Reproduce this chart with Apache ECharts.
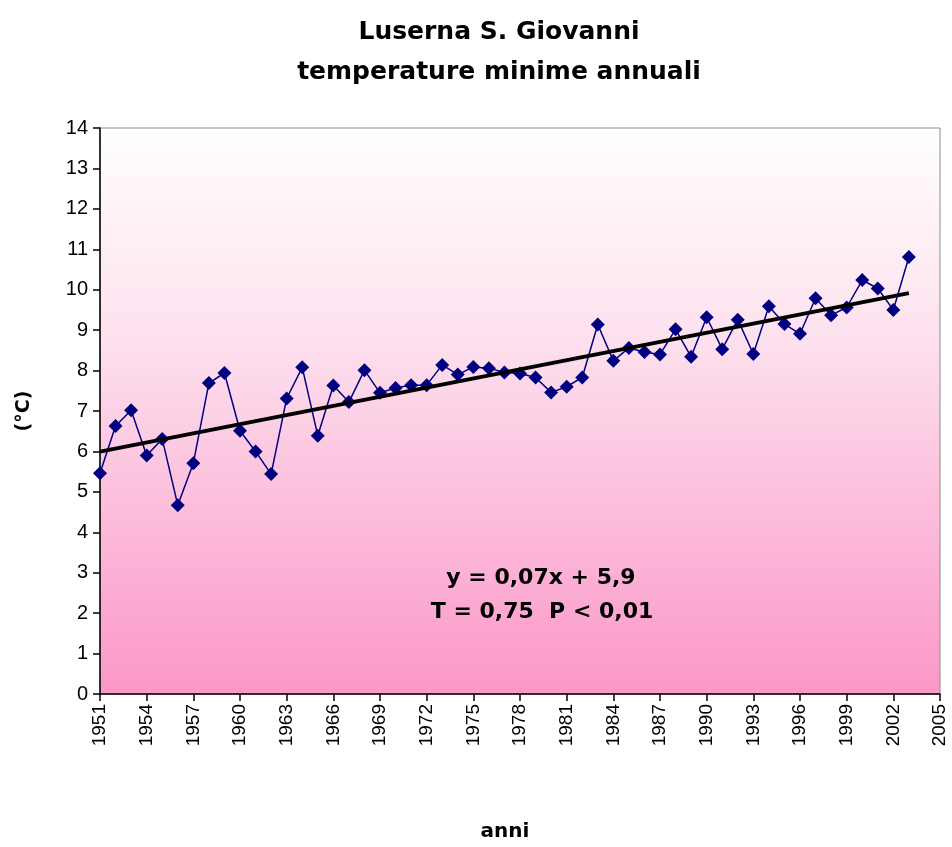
<!DOCTYPE html>
<html>
<head>
<meta charset="utf-8">
<title>Luserna S. Giovanni - temperature minime annuali</title>
<script src="https://cdn.jsdelivr.net/npm/echarts@6/dist/echarts.min.js"></script>
<style>
  html, body { margin: 0; padding: 0; background: #ffffff; }
  #chart { width: 952px; height: 847px; }
</style>
</head>
<body>
<div id="chart"></div>
<script>
// Annual minimum temperatures (°C), Luserna S. Giovanni
const startYear = 1951;
const years = [
  1951, 1952, 1953, 1954, 1955, 1956, 1957, 1958, 1959, 1960,
  1961, 1962, 1963, 1964, 1965, 1966, 1967, 1968, 1969, 1970,
  1971, 1972, 1973, 1974, 1975, 1976, 1977, 1978, 1979, 1980,
  1981, 1982, 1983, 1984, 1985, 1986, 1987, 1988, 1989, 1990,
  1991, 1992, 1993, 1994, 1995, 1996, 1997, 1998, 1999, 2000,
  2001, 2002, 2003
];
const tmin = [
  5.46, 6.63, 7.02, 5.90, 6.31, 4.67, 5.71, 7.69, 7.94, 6.51,
  6.00, 5.44, 7.31, 8.08, 6.39, 7.63, 7.22, 8.01, 7.45, 7.57,
  7.64, 7.64, 8.14, 7.90, 8.09, 8.06, 7.95, 7.93, 7.83, 7.46,
  7.60, 7.83, 9.14, 8.24, 8.56, 8.46, 8.40, 9.02, 8.34, 9.32,
  8.53, 9.26, 8.41, 9.59, 9.15, 8.91, 9.79, 9.37, 9.56, 10.24,
  10.03, 9.50, 10.81
];
const yTicks = { min: 0, max: 14, step: 1 };
const xTicks = { first: 1951, last: 2005, step: 3 };
const titleLines = ['Luserna S. Giovanni', 'temperature minime annuali'];
const trendText = ['y = 0,07x + 5,9', 'T = 0,75  P < 0,01'];

// x positions are counted in years from the first year, so the tick step divides the axis minimum
const points = years.map((y, i) => [y - startYear, tmin[i]]);

// least-squares linear trend over the series
const n = points.length;
const mx = points.reduce((s, p) => s + p[0], 0) / n;
const my = points.reduce((s, p) => s + p[1], 0) / n;
let sxy = 0, sxx = 0;
points.forEach(p => { sxy += (p[0] - mx) * (p[1] - my); sxx += (p[0] - mx) * (p[0] - mx); });
const slope = sxy / sxx;
const icpt = my - slope * mx;
const x0 = points[0][0], x1 = points[n - 1][0];
const trend = [[x0, icpt + slope * x0], [x1, icpt + slope * x1]];

const font = '"Liberation Sans", Arial, sans-serif';
const boldFont = '"DejaVu Sans", Verdana, sans-serif';
const chart = echarts.init(document.getElementById('chart'), null, { renderer: 'canvas' });

chart.setOption({
  backgroundColor: '#ffffff',
  animation: false,
  title: {
    text: titleLines.join('\n'),
    left: 494,
    top: 7,
    textAlign: 'center',
    textStyle: { fontFamily: boldFont, fontWeight: 'bold', fontSize: 25, lineHeight: 40, color: '#000000' }
  },
  grid: {
    left: 100, right: 12, top: 128, bottom: 147,
    show: true,
    borderColor: '#8c8c8c',
    borderWidth: 1,
    backgroundColor: {
      type: 'linear', x: 0, y: 0, x2: 0, y2: 1,
      colorStops: [
        { offset: 0, color: '#ffffff' },
        { offset: 0.35, color: '#fde3ef' },
        { offset: 1, color: '#fb97c8' }
      ]
    }
  },
  xAxis: {
    type: 'value',
    min: xTicks.first - startYear,
    max: xTicks.last - startYear,
    interval: xTicks.step,
    name: 'anni',
    nameLocation: 'middle',
    nameGap: 128,
    nameTextStyle: { fontFamily: boldFont, fontWeight: 'bold', fontSize: 20, color: '#000000', padding: [0, 30, 0, 0] },
    axisLine: { show: true, lineStyle: { color: '#000000', width: 1.5 } },
    axisTick: { show: true, length: 7, lineStyle: { color: '#000000', width: 1.5 } },
    axisLabel: {
      rotate: 90,
      margin: 10,
      fontFamily: font,
      fontSize: 19,
      color: '#000000',
      formatter: v => String(startYear + v)
    },
    splitLine: { show: false }
  },
  yAxis: {
    type: 'value',
    min: yTicks.min,
    max: yTicks.max,
    interval: yTicks.step,
    name: '(°C)',
    nameLocation: 'middle',
    nameGap: 66,
    nameRotate: 90,
    nameTextStyle: { fontFamily: boldFont, fontWeight: 'bold', fontSize: 19, color: '#000000' },
    axisLine: { show: true, lineStyle: { color: '#000000', width: 1.5 } },
    axisTick: { show: true, length: 7, lineStyle: { color: '#000000', width: 1.5 } },
    axisLabel: { margin: 12, fontFamily: font, fontSize: 20, color: '#000000' },
    splitLine: { show: false }
  },
  series: [
    {
      name: 'temperature minime',
      type: 'line',
      data: points,
      symbol: 'diamond',
      symbolSize: 14,
      itemStyle: { color: '#000080' },
      lineStyle: { color: '#000080', width: 1.5 },
      z: 3
    },
    {
      name: 'tendenza lineare',
      type: 'line',
      data: trend,
      symbol: 'none',
      lineStyle: { color: '#000000', width: 4 },
      z: 4
    }
  ],
  graphic: [
    {
      type: 'text',
      style: {
        x: 541, y: 578,
        text: trendText[0],
        textAlign: 'center', textVerticalAlign: 'middle',
        font: 'bold 22px ' + boldFont, fill: '#000000'
      }
    },
    {
      type: 'text',
      style: {
        x: 542, y: 612,
        text: trendText[1],
        textAlign: 'center', textVerticalAlign: 'middle',
        font: 'bold 22px ' + boldFont, fill: '#000000'
      }
    }
  ]
});
</script>
</body>
</html>
